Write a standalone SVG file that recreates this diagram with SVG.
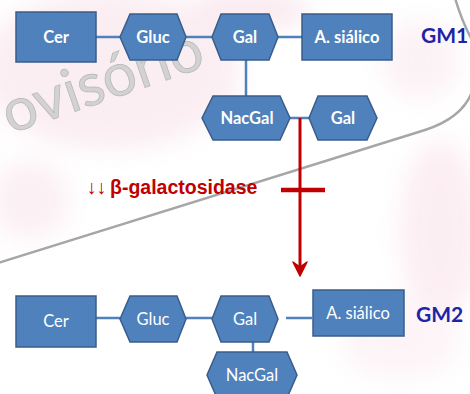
<svg xmlns="http://www.w3.org/2000/svg" width="470" height="394" viewBox="0 0 470 394">
  <defs>
    <filter id="soft" x="-50%" y="-50%" width="200%" height="200%">
      <feGaussianBlur stdDeviation="12"/>
    </filter>
    <filter id="softLine" x="-10%" y="-10%" width="120%" height="120%">
      <feGaussianBlur stdDeviation="0.6"/>
    </filter>
    <style>
      .box { fill: #4F81BD; stroke: #385D8A; stroke-width: 1.5; }
      .link { fill: none; stroke: #4F81BD; stroke-width: 2.5; }
      .lblB { font-family: Lato, "Open Sans", sans-serif; font-weight: bold; font-size: 16.5px; fill: #ffffff; text-anchor: middle; }
      .lbl { font-family: Lato, "Open Sans", sans-serif; font-size: 16.5px; fill: #ffffff; text-anchor: middle; }
      .gm { font-family: Lato, "Open Sans", sans-serif; font-weight: bold; font-size: 21px; fill: #1F23A5; }
      .enz { font-family: "Liberation Sans", Arial, sans-serif; font-size: 19.5px; fill: #C00000; }
      .block { fill: none; stroke: #C00000; }
    </style>
  </defs>

  <!-- backdrop -->
  <rect x="0" y="0" width="470" height="394" fill="#ffffff"/>
  <g filter="url(#soft)" opacity="0.35">
    <ellipse cx="110" cy="70" rx="130" ry="80" fill="#f3cfdc"/>
    <ellipse cx="250" cy="10" rx="60" ry="20" fill="#f0c4d4"/>
    <ellipse cx="30" cy="200" rx="40" ry="40" fill="#f5d6e0"/>
    <ellipse cx="440" cy="230" rx="40" ry="90" fill="#f6cfdc"/>
    <ellipse cx="400" cy="340" rx="60" ry="40" fill="#f8e2e8"/>
    <ellipse cx="420" cy="60" rx="40" ry="40" fill="#f7dce5"/>
  </g>
  <text x="10" y="134" transform="rotate(-19 10 134)" font-family="Lato, 'Open Sans', sans-serif" font-size="60" fill="#d2d2d2" stroke="#b5b5b5" stroke-width="0.7">ovisório</text>
  <g filter="url(#softLine)" fill="none" stroke="#a6a6a6" stroke-width="2.5">
    <path d="M-5,264 L425,130 Q462,118 472,92"/>
    <path d="M455,-2 Q462,22 473,42"/>
  </g>

  <!-- connectors -->
  <g id="connectors">
    <path class="link" d="M96,37H120 M186,37H212 M278,37H302 M246,60V96 M290,118H309"/>
    <path class="link" d="M96,318H120 M186,318H212 M286,318H312 M253,342V352"/>
    <path class="block" stroke-width="3" d="M300,118V266"/>
    <path class="block" stroke-width="4.5" d="M281,190H325"/>
    <polygon points="293,262 300,276 307,262 300,267" fill="#C00000" stroke="#C00000" stroke-width="1.5" stroke-linejoin="round"/>
  </g>

  <!-- GM1 -->
  <g id="gm1-cer">
    <rect class="box" x="16" y="12" width="80" height="50"/>
    <text class="lblB" x="56" y="43">Cer</text>
  </g>
  <g id="gm1-gluc">
    <polygon class="box" points="120,37 130,14 177,14 186,37 177,60 130,60"/>
    <text class="lblB" x="153" y="43">Gluc</text>
  </g>
  <g id="gm1-gal">
    <polygon class="box" points="212,37 221,14 269,14 278,37 269,60 221,60"/>
    <text class="lblB" x="245" y="43">Gal</text>
  </g>
  <g id="gm1-sialico">
    <rect class="box" x="302" y="14" width="90" height="46"/>
    <text class="lblB" x="347" y="43">A. siálico</text>
  </g>
  <g id="gm1-nacgal">
    <polygon class="box" points="202,118 213,96 280,96 290,118 280,140 213,140"/>
    <text class="lblB" x="247" y="124">NacGal</text>
  </g>
  <g id="gm1-gal2">
    <polygon class="box" points="309,118 318,96 367,96 377,118 367,140 318,140"/>
    <text class="lblB" x="343" y="124">Gal</text>
  </g>
  <text class="gm" x="421" y="43">GM1</text>

  <!-- enzyme label -->
  <text class="enz" x="87" y="194"><tspan>↓↓</tspan><tspan x="110" font-weight="bold">β-galactosidase</tspan></text>

  <!-- GM2 -->
  <g id="gm2-cer">
    <rect class="box" x="16" y="296" width="80" height="51"/>
    <text class="lbl" x="56" y="327">Cer</text>
  </g>
  <g id="gm2-gluc">
    <polygon class="box" points="120,319 130,296 177,296 186,319 177,342 130,342"/>
    <text class="lbl" x="153" y="325">Gluc</text>
  </g>
  <g id="gm2-gal">
    <polygon class="box" points="212,319 221,296 269,296 278,319 269,342 221,342"/>
    <text class="lbl" x="245" y="325">Gal</text>
  </g>
  <g id="gm2-sialico">
    <rect class="box" x="313" y="290" width="91" height="46"/>
    <text class="lbl" x="358" y="319">A. siálico</text>
  </g>
  <g id="gm2-nacgal">
    <polygon class="box" points="207,375 217,352 287,352 297,375 287,398 217,398"/>
    <text class="lbl" x="252" y="381">NacGal</text>
  </g>
  <text class="gm" x="416" y="322">GM2</text>
</svg>
